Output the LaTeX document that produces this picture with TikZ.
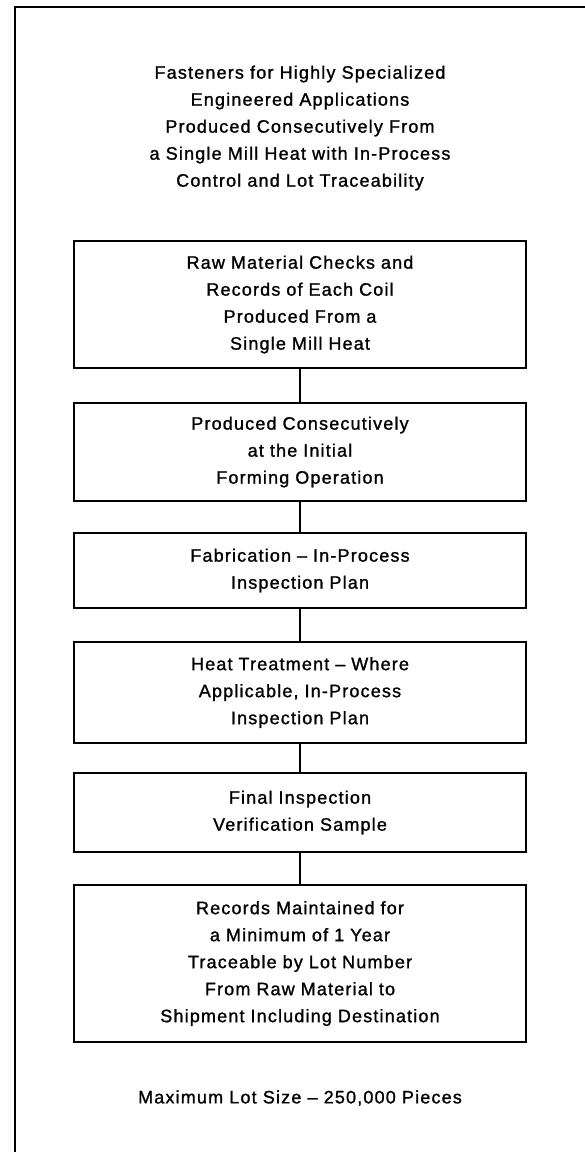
\documentclass[tikz,border=0pt]{standalone}
\usepackage{fontspec}
\setmainfont{Liberation Sans}[LetterSpace=6.5,FakeBold=1.2]
\usetikzlibrary{positioning}

\begin{document}
\begin{tikzpicture}[x=1pt,y=-1pt,
  every node/.style = {align=center,
    font=\fontsize{18}{27}\selectfont},
  stage/.style = {draw, line width=1.6pt, inner sep=0pt,
    text width=440pt, minimum width=452pt},
  link/.style = {draw, line width=1.6pt}
  ]
  \useasboundingbox (0,0) rectangle (585,1152);
  % page frame, cut at right and bottom
  \draw[line width=1.8pt] (585,7) -- (15,7) -- (15,1152);
  \node (title) at (300,128) {Fasteners for Highly Specialized\\
    Engineered Applications\\
    Produced Consecutively From\\
    a Single Mill Heat with In-Process\\
    Control and Lot Traceability};
  \node[stage, minimum height=127pt] (raw) at (300,304.5)
    {Raw Material Checks and\\ Records of Each Coil\\
     Produced From a\\ Single Mill Heat};
  \node[stage, minimum height=98pt] (forming) at (300,452)
    {Produced Consecutively\\ at the Initial\\ Forming Operation};
  \node[stage, minimum height=75pt] (fab) at (300,570.5)
    {Fabrication -- In-Process\\ Inspection Plan};
  \node[stage, minimum height=101pt] (heat) at (300,692.5)
    {Heat Treatment -- Where\\ Applicable, In-Process\\ Inspection Plan};
  \node[stage, minimum height=79pt] (final) at (300,812.5)
    {Final Inspection\\ Verification Sample};
  \node[stage, minimum height=157pt] (records) at (300,963.5)
    {Records Maintained for\\ a Minimum of 1 Year\\
     Traceable by Lot Number\\ From Raw Material to\\
     Shipment Including Destination};
  \node (lotsize) at (300,1098) {Maximum Lot Size -- 250,000 Pieces};
  \draw[link] (raw) -- (forming);
  \draw[link] (forming) -- (fab);
  \draw[link] (fab) -- (heat);
  \draw[link] (heat) -- (final);
  \draw[link] (final) -- (records);
\end{tikzpicture}
\end{document}
